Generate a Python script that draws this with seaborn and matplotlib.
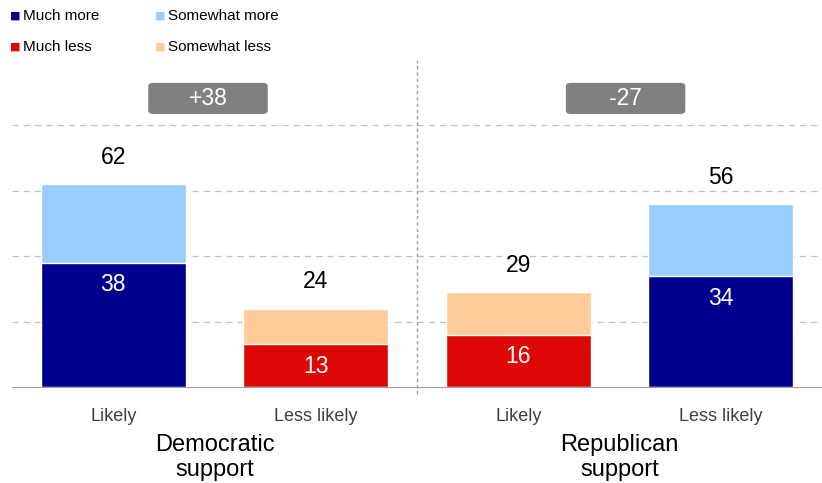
import numpy as np
import pandas as pd
import matplotlib.pyplot as plt
import seaborn as sns
from matplotlib.patches import FancyBboxPatch

sns.set_style("white")
plt.rcParams["font.family"] = ["Liberation Sans", "DejaVu Sans"]

categories = ["Likely", "Less likely", "Likely", "Less likely"]
groups = ["Democratic\nsupport", "Republican\nsupport"]
strong = [38, 13, 16, 34]      # much more / much less
weak = [24, 11, 13, 22]        # somewhat more / somewhat less
totals = [62, 24, 29, 56]
net_labels = ["+38", "-27"]

dark_blue, light_blue = "#00008F", "#99CCFF"
red, peach = "#DD0806", "#FFCC99"
strong_colors = [dark_blue, red, red, dark_blue]
weak_colors = [light_blue, peach, peach, light_blue]

df = pd.DataFrame({"pos": [0, 1, 2, 3], "strong": strong, "total": totals})

fig = plt.figure(figsize=(8.22, 4.83), dpi=100)
ax = fig.add_axes([12 / 822, 1 - 387 / 483, 810 / 822, 327 / 483])

sns.barplot(data=df, x="pos", y="total", hue="pos", palette=weak_colors,
            legend=False, width=0.715, edgecolor="white", linewidth=1, ax=ax,
            native_scale=True, saturation=1)
sns.barplot(data=df, x="pos", y="strong", hue="pos", palette=strong_colors,
            legend=False, width=0.715, edgecolor="white", linewidth=1, ax=ax,
            native_scale=True, saturation=1)

ax.set_xlim(-0.5, 3.5)
ax.set_ylim(0, 100)
ax.set_xlabel("")
ax.set_ylabel("")
ax.set_yticks([])
for y in [20, 40, 60, 80]:
    ax.axhline(y, color="#C0C0C0", lw=0.9, ls=(0, (5, 4)), zorder=0)

for s in ["left", "right", "top"]:
    ax.spines[s].set_visible(False)
ax.spines["bottom"].set_color("#A0A0A0")

ax.set_xticks([0, 1, 2, 3])
ax.set_xticklabels(categories, fontsize=13, color="#404040")
ax.tick_params(axis="x", which="major", length=0, pad=15)
ax.set_xticks([-0.5, 0.5, 1.5, 2.5, 3.5], minor=True)
ax.tick_params(axis="x", which="minor", length=6, color="#A0A0A0")

# divider between the two groups
ax.axvline(1.5, ymin=-0.02, ymax=1.0, color="#A0A0A0", lw=1,
           ls=(0, (2.5, 2)), clip_on=False)

for i in range(4):
    ax.text(i, totals[i] + 8.2, str(totals[i]), ha="center", va="center",
            fontsize=16.5, color="black")
    ax.text(i, strong[i] - 6.8, str(strong[i]), ha="center", va="center",
            fontsize=16.5, color="white")

# net boxes
for cx, lab in zip([0.468, 2.53], net_labels):
    box = FancyBboxPatch((cx - 0.295, 83.5), 0.59, 9.5,
                         boxstyle="round,pad=0,rounding_size=0.025",
                         fc="#808080", ec="none", mutation_aspect=40)
    ax.add_patch(box)
    ax.text(cx, 88.3, lab, ha="center", va="center", fontsize=16.5,
            color="white")

for cx, g in zip([0.5, 2.5], groups):
    ax.text(cx, -21.5, g, ha="center", va="center", fontsize=17,
            color="black", linespacing=1.2)

# legend
leg = [("Much more", dark_blue, 10, 16), ("Somewhat more", light_blue, 155, 16),
       ("Much less", red, 10, 47), ("Somewhat less", peach, 155, 47)]
for lab, c, px, py in leg:
    fig.text(px / 822, 1 - py / 483, "\u25A0", color=c, fontsize=8,
             ha="left", va="center", family="DejaVu Sans")
    fig.text((px + 13) / 822, 1 - py / 483, lab, fontsize=11,
             ha="left", va="center", color="black")

fig.savefig("out.png", dpi=100)
